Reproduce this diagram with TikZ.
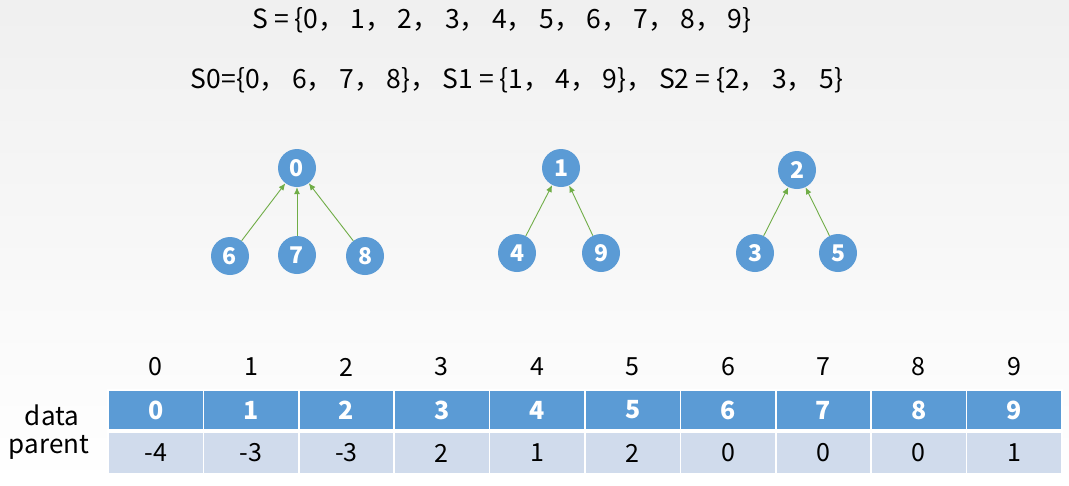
\documentclass[tikz,border=0pt]{standalone}
\usepackage{fontspec}
\setmainfont{Noto Sans CJK SC}
\usetikzlibrary{arrows.meta}
\definecolor{cblue}{HTML}{5B9BD5}
\definecolor{clight}{HTML}{D0DBEC}
\definecolor{cgreen}{HTML}{70AD47}
\begin{document}
\begin{tikzpicture}[x=1pt,y=-1pt,
  vert/.style={circle,fill=cblue,minimum size=38pt,inner sep=0pt,text=white,font=\fontsize{23}{25}\selectfont\bfseries},
  link/.style={draw=cgreen,line width=0.9pt,-{Latex[length=7pt,width=6pt]}},
  title/.style={font=\fontsize{26.5}{28}\selectfont},
  idx/.style={font=\fontsize{25}{27}\selectfont},
  datacell/.style={fill=cblue,draw=white,line width=1.5pt,minimum width=95.4pt,minimum height=40pt,inner sep=0pt,text=white,font=\fontsize{25}{27}\selectfont\bfseries},
  parcell/.style={fill=clight,draw=white,line width=1.5pt,minimum width=95.4pt,minimum height=42pt,inner sep=0pt,font=\fontsize{25}{27}\selectfont},
  lbl/.style={font=\fontsize{26}{28}\selectfont}]
\shade[top color=black!6,bottom color=white] (0,0) rectangle (1069,485);
\useasboundingbox (0,0) rectangle (1069,485);
\node[title] (s) at (502,20) {S = \{0， 1， 2， 3， 4， 5， 6， 7， 8， 9\}};
\node[title] (sp) at (517,80) {S0=\{0， 6， 7， 8\}， S1 = \{1， 4， 9\}， S2 = \{2， 3， 5\}};
% trees
\node[vert] (v0) at (297,168) {0};
\node[vert] (v6) at (230,256) {6};
\node[vert] (v7) at (297,255) {7};
\node[vert] (v8) at (365,256) {8};
\node[vert] (v1) at (561,168) {1};
\node[vert] (v4) at (517,253) {4};
\node[vert] (v9) at (601,253) {9};
\node[vert] (v2) at (797,170) {2};
\node[vert] (v3) at (755,253) {3};
\node[vert] (v5) at (838,253) {5};
\draw[link] (v6) -- (v0);
\draw[link] (v7) -- (v0);
\draw[link] (v8) -- (v0);
\draw[link] (v4) -- (v1);
\draw[link] (v9) -- (v1);
\draw[link] (v3) -- (v2);
\draw[link] (v5) -- (v2);
% table
\foreach \i/\p in {0/-4,1/-3,2/-3,3/2,4/1,5/2,6/0,7/0,8/0,9/1}{
  \node[idx] (i\i) at ({108+95.4*\i+47.7},367) {\i};
  \node[datacell] (d\i) at ({108+95.4*\i+47.7},410) {\i};
  \node[parcell] (p\i) at ({108+95.4*\i+47.7},453) {\p};
}
\node[lbl] (ld) at (52,415) {data};
\node[lbl] (lp) at (49,447) {parent};
\end{tikzpicture}
\end{document}
